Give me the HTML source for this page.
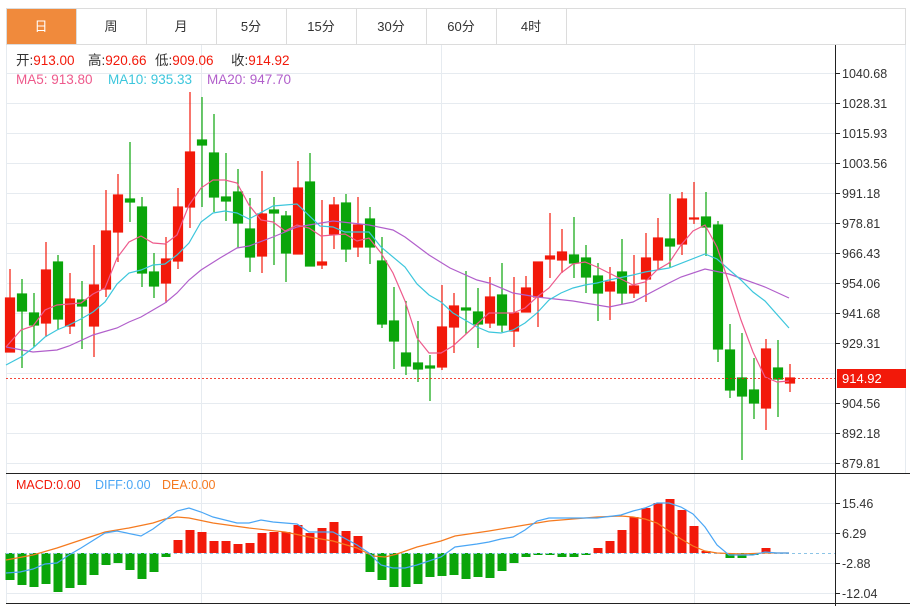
<!DOCTYPE html>
<html><head><meta charset="utf-8"><style>
body{margin:0;background:#fff;width:910px;height:606px;overflow:hidden;font-family:"Liberation Sans","Noto Sans CJK SC",sans-serif}
svg{position:absolute;left:0;top:0}
.r{fill:#f2190a;stroke:#f2190a}.g{fill:#0aa50a;stroke:#0aa50a}
.w{stroke-width:1.2}
</style></head><body>
<svg width="910" height="606" xmlns="http://www.w3.org/2000/svg" font-family="Liberation Sans, Noto Sans CJK SC, sans-serif">
<!-- tabs -->
<rect x="6.5" y="8.5" width="899" height="36" fill="#fff" stroke="#dcdcdc"/>
<rect x="7" y="9" width="69" height="35" fill="#f08a3c"/>
<g stroke="#dcdcdc"><line x1="76.5" y1="9" x2="76.5" y2="44"/><line x1="146.5" y1="9" x2="146.5" y2="44"/><line x1="216.5" y1="9" x2="216.5" y2="44"/><line x1="286.5" y1="9" x2="286.5" y2="44"/><line x1="356.5" y1="9" x2="356.5" y2="44"/><line x1="426.5" y1="9" x2="426.5" y2="44"/><line x1="496.5" y1="9" x2="496.5" y2="44"/><line x1="566.5" y1="9" x2="566.5" y2="44"/></g>
<g font-size="13" text-anchor="middle" fill="#333"><text x="41" y="31" fill="#fff">日</text><text x="111" y="31">周</text><text x="181" y="31">月</text><text x="251" y="31">5分</text><text x="321" y="31">15分</text><text x="391" y="31">30分</text><text x="461" y="31">60分</text><text x="531" y="31">4时</text></g>
<!-- grid -->
<g stroke="#e6ebf0"><line x1="6.5" y1="45" x2="6.5" y2="603"/><line x1="905.5" y1="45" x2="905.5" y2="473"/>
<line x1="201.5" y1="45" x2="201.5" y2="603"/><line x1="441.5" y1="45" x2="441.5" y2="603"/><line x1="694.5" y1="45" x2="694.5" y2="603"/>
<line x1="6" y1="73.5" x2="835" y2="73.5"/><line x1="6" y1="103.5" x2="835" y2="103.5"/><line x1="6" y1="133.5" x2="835" y2="133.5"/><line x1="6" y1="163.5" x2="835" y2="163.5"/><line x1="6" y1="193.5" x2="835" y2="193.5"/><line x1="6" y1="223.5" x2="835" y2="223.5"/><line x1="6" y1="253.5" x2="835" y2="253.5"/><line x1="6" y1="283.5" x2="835" y2="283.5"/><line x1="6" y1="313.5" x2="835" y2="313.5"/><line x1="6" y1="343.5" x2="835" y2="343.5"/><line x1="6" y1="373.5" x2="835" y2="373.5"/><line x1="6" y1="403.5" x2="835" y2="403.5"/><line x1="6" y1="433.5" x2="835" y2="433.5"/><line x1="6" y1="463.5" x2="835" y2="463.5"/>
<line x1="6" y1="503.5" x2="835" y2="503.5"/><line x1="6" y1="533.5" x2="835" y2="533.5"/><line x1="6" y1="563.5" x2="835" y2="563.5"/><line x1="6" y1="593.5" x2="835" y2="593.5"/></g>
<!-- legend -->
<g font-size="13.5">
<text x="16" y="65" fill="#333">开:<tspan fill="#f2190a">913.00</tspan></text>
<text x="88" y="65" fill="#333">高:<tspan fill="#f2190a">920.66</tspan></text>
<text x="155" y="65" fill="#333">低:<tspan fill="#f2190a">909.06</tspan></text>
<text x="231" y="65" fill="#333">收:<tspan fill="#f2190a">914.92</tspan></text>
<text x="16" y="84" fill="#ee5a8c">MA5: 913.80</text><text x="108" y="84" fill="#3cc6dc">MA10: 935.33</text><text x="207" y="84" fill="#b15fcb">MA20: 947.70</text>
<text x="16" y="489" font-size="12.5" fill="#f2190a">MACD:0.00</text><text x="95" y="489" font-size="12.5" fill="#4aa6f5">DIFF:0.00</text><text x="162" y="489" font-size="12.5" fill="#f57a1f">DEA:0.00</text></g>
<!-- candles -->
<g class="w">
<g class="r"><line x1="10" y1="269" x2="10" y2="352"/><rect x="5.5" y="298" width="9" height="54"/></g>
<g class="g"><line x1="22" y1="279" x2="22" y2="368"/><rect x="17.5" y="294" width="9" height="17"/></g>
<g class="g"><line x1="34" y1="293" x2="34" y2="347"/><rect x="29.5" y="313" width="9" height="12"/></g>
<g class="r"><line x1="46" y1="242" x2="46" y2="337"/><rect x="41.5" y="270" width="9" height="53"/></g>
<g class="g"><line x1="58" y1="255" x2="58" y2="330"/><rect x="53.5" y="262" width="9" height="57"/></g>
<g class="r"><line x1="70" y1="273" x2="70" y2="334"/><rect x="65.5" y="299" width="9" height="27"/></g>
<g class="g"><line x1="82" y1="281" x2="82" y2="349"/><rect x="77.5" y="300" width="9" height="6"/></g>
<g class="r"><line x1="94" y1="245" x2="94" y2="357"/><rect x="89.5" y="285" width="9" height="41"/></g>
<g class="r"><line x1="106" y1="190" x2="106" y2="297"/><rect x="101.5" y="231" width="9" height="58"/></g>
<g class="r"><line x1="118" y1="174" x2="118" y2="262"/><rect x="113.5" y="195" width="9" height="37"/></g>
<g class="g"><line x1="130" y1="142" x2="130" y2="222"/><rect x="125.5" y="199" width="9" height="3"/></g>
<g class="g"><line x1="142" y1="197" x2="142" y2="287"/><rect x="137.5" y="207" width="9" height="66"/></g>
<g class="g"><line x1="154" y1="253" x2="154" y2="298"/><rect x="149.5" y="272" width="9" height="14"/></g>
<g class="r"><line x1="166" y1="237" x2="166" y2="303"/><rect x="161.5" y="259" width="9" height="24"/></g>
<g class="r"><line x1="178" y1="188" x2="178" y2="269"/><rect x="173.5" y="207" width="9" height="54"/></g>
<g class="r"><line x1="190" y1="92" x2="190" y2="228"/><rect x="185.5" y="152" width="9" height="55"/></g>
<g class="g"><line x1="202" y1="97" x2="202" y2="207"/><rect x="197.5" y="140" width="9" height="5"/></g>
<g class="g"><line x1="214" y1="114" x2="214" y2="212"/><rect x="209.5" y="153" width="9" height="44"/></g>
<g class="g"><line x1="226" y1="153" x2="226" y2="221"/><rect x="221.5" y="197" width="9" height="4"/></g>
<g class="g"><line x1="238" y1="169" x2="238" y2="248"/><rect x="233.5" y="192" width="9" height="31"/></g>
<g class="g"><line x1="250" y1="198" x2="250" y2="272"/><rect x="245.5" y="229" width="9" height="28"/></g>
<g class="r"><line x1="262" y1="171" x2="262" y2="273"/><rect x="257.5" y="214" width="9" height="42"/></g>
<g class="g"><line x1="274" y1="197" x2="274" y2="265"/><rect x="269.5" y="210" width="9" height="3"/></g>
<g class="g"><line x1="286" y1="211" x2="286" y2="282"/><rect x="281.5" y="216" width="9" height="37"/></g>
<g class="r"><line x1="298" y1="161" x2="298" y2="254"/><rect x="293.5" y="188" width="9" height="66"/></g>
<g class="g"><line x1="310" y1="153" x2="310" y2="266"/><rect x="305.5" y="182" width="9" height="84"/></g>
<g class="r"><line x1="322" y1="200" x2="322" y2="269"/><rect x="317.5" y="262" width="9" height="3"/></g>
<g class="r"><line x1="334" y1="197" x2="334" y2="249"/><rect x="329.5" y="205" width="9" height="29"/></g>
<g class="g"><line x1="346" y1="194" x2="346" y2="262"/><rect x="341.5" y="203" width="9" height="46"/></g>
<g class="r"><line x1="358" y1="197" x2="358" y2="257"/><rect x="353.5" y="225" width="9" height="22"/></g>
<g class="g"><line x1="370" y1="207" x2="370" y2="264"/><rect x="365.5" y="219" width="9" height="28"/></g>
<g class="g"><line x1="382" y1="237" x2="382" y2="328"/><rect x="377.5" y="261" width="9" height="63"/></g>
<g class="g"><line x1="394" y1="287" x2="394" y2="369"/><rect x="389.5" y="321" width="9" height="20"/></g>
<g class="g"><line x1="406" y1="301" x2="406" y2="375"/><rect x="401.5" y="353" width="9" height="13"/></g>
<g class="g"><line x1="418" y1="321" x2="418" y2="382"/><rect x="413.5" y="363" width="9" height="6"/></g>
<g class="g"><line x1="430" y1="355" x2="430" y2="401"/><rect x="425.5" y="366" width="9" height="2"/></g>
<g class="r"><line x1="442" y1="285" x2="442" y2="370"/><rect x="437.5" y="327" width="9" height="40"/></g>
<g class="r"><line x1="454" y1="293" x2="454" y2="353"/><rect x="449.5" y="306" width="9" height="21"/></g>
<g class="g"><line x1="466" y1="271" x2="466" y2="334"/><rect x="461.5" y="308" width="9" height="2"/></g>
<g class="g"><line x1="478" y1="288" x2="478" y2="348"/><rect x="473.5" y="312" width="9" height="12"/></g>
<g class="r"><line x1="490" y1="277" x2="490" y2="328"/><rect x="485.5" y="297" width="9" height="26"/></g>
<g class="g"><line x1="502" y1="263" x2="502" y2="332"/><rect x="497.5" y="295" width="9" height="30"/></g>
<g class="r"><line x1="514" y1="277" x2="514" y2="347"/><rect x="509.5" y="313" width="9" height="18"/></g>
<g class="r"><line x1="526" y1="276" x2="526" y2="312"/><rect x="521.5" y="288" width="9" height="24"/></g>
<g class="r"><line x1="538" y1="262" x2="538" y2="327"/><rect x="533.5" y="262" width="9" height="35"/></g>
<g class="r"><line x1="550" y1="213" x2="550" y2="278"/><rect x="545.5" y="256" width="9" height="3"/></g>
<g class="r"><line x1="562" y1="229" x2="562" y2="273"/><rect x="557.5" y="252" width="9" height="8"/></g>
<g class="g"><line x1="574" y1="217" x2="574" y2="278"/><rect x="569.5" y="255" width="9" height="8"/></g>
<g class="g"><line x1="586" y1="245" x2="586" y2="293"/><rect x="581.5" y="258" width="9" height="19"/></g>
<g class="g"><line x1="598" y1="263" x2="598" y2="321"/><rect x="593.5" y="276" width="9" height="17"/></g>
<g class="r"><line x1="610" y1="267" x2="610" y2="320"/><rect x="605.5" y="282" width="9" height="9"/></g>
<g class="g"><line x1="622" y1="239" x2="622" y2="304"/><rect x="617.5" y="272" width="9" height="21"/></g>
<g class="r"><line x1="634" y1="255" x2="634" y2="298"/><rect x="629.5" y="286" width="9" height="7"/></g>
<g class="r"><line x1="646" y1="233" x2="646" y2="302"/><rect x="641.5" y="258" width="9" height="21"/></g>
<g class="r"><line x1="658" y1="218" x2="658" y2="269"/><rect x="653.5" y="238" width="9" height="22"/></g>
<g class="g"><line x1="670" y1="194" x2="670" y2="268"/><rect x="665.5" y="239" width="9" height="7"/></g>
<g class="r"><line x1="682" y1="192" x2="682" y2="255"/><rect x="677.5" y="199" width="9" height="45"/></g>
<g class="r"><line x1="694" y1="182" x2="694" y2="224"/><rect x="689.5" y="218" width="9" height="1"/></g>
<g class="g"><line x1="706" y1="192" x2="706" y2="256"/><rect x="701.5" y="217" width="9" height="10"/></g>
<g class="g"><line x1="718" y1="221" x2="718" y2="362"/><rect x="713.5" y="225" width="9" height="124"/></g>
<g class="g"><line x1="730" y1="324" x2="730" y2="398"/><rect x="725.5" y="350" width="9" height="40"/></g>
<g class="g"><line x1="742" y1="333" x2="742" y2="460"/><rect x="737.5" y="378" width="9" height="18"/></g>
<g class="g"><line x1="754" y1="358" x2="754" y2="419"/><rect x="749.5" y="390" width="9" height="13"/></g>
<g class="r"><line x1="766" y1="339" x2="766" y2="430"/><rect x="761.5" y="349" width="9" height="59"/></g>
<g class="g"><line x1="778" y1="340" x2="778" y2="417"/><rect x="773.5" y="368" width="9" height="11"/></g>
<g class="r"><line x1="790" y1="364" x2="790" y2="392"/><rect x="785.5" y="378" width="9" height="5"/></g>
</g>
<!-- MAs -->
<g fill="none" stroke-width="1.2">
<polyline stroke="#b15fcb" points="6,347 33,352 57,350 69,346 93,335 117,328 129,322 141,317 153,310 165,303 177,293 189,280 201,270 220,258 237,248 249,246 273,237 297,227 333,221 369,225 393,230 405,237 429,255 450,268 477,280 489,283 513,293 537,297 573,301 609,307 633,302 669,283 681,277 705,269 729,274 765,287 789,298"/>
<polyline stroke="#3cc6dc" points="6,365 21,357 33,348 45,337 57,330 69,325 81,319 93,312 105,302 117,284 129,273 141,270 153,265 165,264 177,255 189,243 201,222 213,213 225,211 237,213 249,219 273,206 297,204 320,226 333,227 345,232 369,232 381,247 405,267 417,284 429,295 441,302 453,313 477,327 489,332 501,333 513,330 525,323 537,313 549,300 561,293 573,288 585,285 597,283 609,280 633,275 645,272 669,268 705,254 717,259 741,280 753,292 765,301 789,328"/>
<polyline stroke="#ee5a8c" points="6,347 21,330 33,326 45,310 57,305 69,304 81,303 93,294 105,288 117,258 129,242 141,236 153,243 165,244 177,235 189,205 201,188 213,180 225,180 237,183 249,205 261,220 273,222 285,231 297,225 309,228 321,236 333,235 345,234 357,241 369,238 381,253 393,273 405,301 417,338 429,353 441,353 453,346 465,335 477,324 489,313 501,313 513,313 525,308 537,297 549,288 561,273 573,264 585,262 597,267 609,273 621,279 633,285 645,282 657,270 669,263 681,245 693,231 705,225 717,247 729,283 741,320 753,352 765,377 777,382 789,381"/>
</g>
<line x1="6" y1="378.5" x2="835" y2="378.5" stroke="#f2190a" stroke-dasharray="2,2" opacity="0.8"/>
<!-- MACD bars -->
<g>
<g fill="#0aa50a"><rect x="5.5" y="553" width="9" height="27"/><rect x="17.5" y="553" width="9" height="32"/><rect x="29.5" y="553" width="9" height="34"/><rect x="41.5" y="553" width="9" height="31"/><rect x="53.5" y="553" width="9" height="39"/><rect x="65.5" y="553" width="9" height="35"/><rect x="77.5" y="553" width="9" height="32"/><rect x="89.5" y="553" width="9" height="22"/><rect x="101.5" y="553" width="9" height="12"/><rect x="113.5" y="553" width="9" height="10"/><rect x="125.5" y="553" width="9" height="17"/><rect x="137.5" y="553" width="9" height="26"/><rect x="149.5" y="553" width="9" height="19"/><rect x="161.5" y="553" width="9" height="4"/>
<rect x="365.5" y="553" width="9" height="19"/><rect x="377.5" y="553" width="9" height="27"/><rect x="389.5" y="553" width="9" height="34"/><rect x="401.5" y="553" width="9" height="34"/><rect x="413.5" y="553" width="9" height="31"/><rect x="425.5" y="553" width="9" height="24"/><rect x="437.5" y="553" width="9" height="23"/><rect x="449.5" y="553" width="9" height="22"/><rect x="461.5" y="553" width="9" height="26"/><rect x="473.5" y="553" width="9" height="24"/><rect x="485.5" y="553" width="9" height="25"/><rect x="497.5" y="553" width="9" height="18"/><rect x="509.5" y="553" width="9" height="10"/><rect x="521.5" y="553" width="9" height="4"/><rect x="533.5" y="553" width="9" height="2"/><rect x="545.5" y="553" width="9" height="2"/><rect x="557.5" y="553" width="9" height="4"/><rect x="569.5" y="553" width="9" height="4"/><rect x="581.5" y="553" width="9" height="2"/>
<rect x="725.5" y="553" width="9" height="5"/><rect x="737.5" y="553" width="9" height="5"/><rect x="749.5" y="553" width="9" height="2"/></g>
<g fill="#f2190a"><rect x="173.5" y="540" width="9" height="13"/><rect x="185.5" y="530" width="9" height="23"/><rect x="197.5" y="532" width="9" height="21"/><rect x="209.5" y="541" width="9" height="12"/><rect x="221.5" y="541" width="9" height="12"/><rect x="233.5" y="544" width="9" height="9"/><rect x="245.5" y="543" width="9" height="10"/><rect x="257.5" y="533" width="9" height="20"/><rect x="269.5" y="532" width="9" height="21"/><rect x="281.5" y="532" width="9" height="21"/><rect x="293.5" y="525" width="9" height="28"/><rect x="305.5" y="533" width="9" height="20"/><rect x="317.5" y="528" width="9" height="25"/><rect x="329.5" y="522" width="9" height="31"/><rect x="341.5" y="531" width="9" height="22"/><rect x="353.5" y="536" width="9" height="17"/>
<rect x="593.5" y="548" width="9" height="5"/><rect x="605.5" y="541" width="9" height="12"/><rect x="617.5" y="530" width="9" height="23"/><rect x="629.5" y="517" width="9" height="36"/><rect x="641.5" y="508" width="9" height="45"/><rect x="653.5" y="503" width="9" height="50"/><rect x="665.5" y="499" width="9" height="54"/><rect x="677.5" y="510" width="9" height="43"/><rect x="689.5" y="526" width="9" height="27"/><rect x="701.5" y="551" width="9" height="2"/><rect x="761.5" y="548" width="9" height="5"/></g>
</g>
<line x1="6" y1="553.5" x2="835" y2="553.5" stroke="#8cc4e6" stroke-dasharray="3,3"/>
<g fill="none" stroke-width="1.2">
<polyline stroke="#f57a1f" points="6,560 33,555 57,548 81,540 105,532 129,528 153,523 165,519 177,517 189,518 213,523 249,528 285,532 309,537 333,541 357,548 373,556 385,557 397,554 417,547 441,541 455,536 489,531 525,525 549,521 573,519 597,517 621,516 633,517 645,519 657,523 669,531 681,539 693,546 705,551 717,553 741,554 765,553 789,553"/>
<polyline stroke="#4aa6f5" points="6,573 20,572 33,569 45,564 57,563 69,555 81,548 105,533 117,531 141,536 153,529 165,520 177,511 189,508 201,512 213,517 237,523 249,523 261,520 273,522 297,524 309,532 333,532 357,545 369,553 381,565 393,568 405,568 417,565 441,557 455,547 477,544 489,542 501,539 513,537 525,530 537,521 549,518 573,518 597,518 621,515 633,511 645,508 657,503 669,503 681,507 693,514 705,527 717,545 729,555 741,555 753,555 765,552 777,553 789,553"/>
</g>
<!-- axes -->
<line x1="835.5" y1="45" x2="835.5" y2="606" stroke="#222"/>
<line x1="6" y1="473.5" x2="910" y2="473.5" stroke="#222"/>
<line x1="6" y1="603.5" x2="910" y2="603.5" stroke="#222"/>
<g stroke="#222"><line x1="835" y1="73.5" x2="840" y2="73.5"/><line x1="835" y1="103.5" x2="840" y2="103.5"/><line x1="835" y1="133.5" x2="840" y2="133.5"/><line x1="835" y1="163.5" x2="840" y2="163.5"/><line x1="835" y1="193.5" x2="840" y2="193.5"/><line x1="835" y1="223.5" x2="840" y2="223.5"/><line x1="835" y1="253.5" x2="840" y2="253.5"/><line x1="835" y1="283.5" x2="840" y2="283.5"/><line x1="835" y1="313.5" x2="840" y2="313.5"/><line x1="835" y1="343.5" x2="840" y2="343.5"/><line x1="835" y1="403.5" x2="840" y2="403.5"/><line x1="835" y1="433.5" x2="840" y2="433.5"/><line x1="835" y1="463.5" x2="840" y2="463.5"/><line x1="835" y1="503.5" x2="840" y2="503.5"/><line x1="835" y1="533.5" x2="840" y2="533.5"/><line x1="835" y1="563.5" x2="840" y2="563.5"/><line x1="835" y1="593.5" x2="840" y2="593.5"/></g>
<g font-size="12.5" fill="#333"><text x="842" y="78">1040.68</text><text x="842" y="108">1028.31</text><text x="842" y="138">1015.93</text><text x="842" y="168">1003.56</text><text x="842" y="198">991.18</text><text x="842" y="228">978.81</text><text x="842" y="258">966.43</text><text x="842" y="288">954.06</text><text x="842" y="318">941.68</text><text x="842" y="348">929.31</text><text x="842" y="408">904.56</text><text x="842" y="438">892.18</text><text x="842" y="468">879.81</text>
<text x="842" y="508">15.46</text><text x="842" y="538">6.29</text><text x="842" y="568">-2.88</text><text x="842" y="598">-12.04</text></g>
<rect x="837" y="369" width="69" height="19" fill="#f2190a"/>
<text x="842" y="383" font-size="13" fill="#fff">914.92</text>
</svg>
</body></html>
